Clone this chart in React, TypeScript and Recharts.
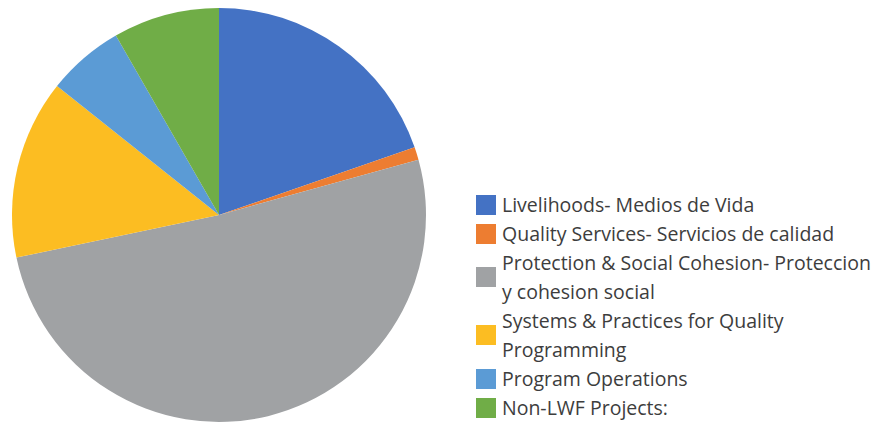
import { PieChart, Pie, Cell, Legend } from 'recharts'

const categories = [
    'Livelihoods- Medios de Vida',
    'Quality Services- Servicios de calidad',
    'Protection & Social Cohesion- Proteccion y cohesion social',
    'Systems & Practices for Quality Programming',
    'Program Operations',
    'Non-LWF Projects:',
]
const shares = [19.7, 1.0, 51.0, 14.0, 6.0, 8.3]
const colors = ['#4472c4', '#ed7d31', '#a0a2a4', '#fcbd22', '#5b9bd5', '#70ad47']

const data = categories.map((name, i) => ({ name, value: shares[i] }))

function LegendList() {
    return (
        <div style={{ fontFamily: '"Open Sans", sans-serif', fontSize: 19.5, lineHeight: '29px', color: '#3d3d3d' }}>
            {categories.map((name, i) => (
                <div key={name} style={{ display: 'flex', alignItems: 'center' }}>
                    <div style={{ width: 20, height: 20, background: colors[i], flexShrink: 0, marginRight: 6 }} />
                    <div style={{ width: 372 }}>{name}</div>
                </div>
            ))}
        </div>
    )
}

export default function App() {
    return (
        <div style={{ position: 'absolute', left: 0, top: 0, width: 890, height: 423, background: '#fff' }}>
            <PieChart width={890} height={423}>
                <Pie
                    data={data}
                    dataKey="value"
                    nameKey="name"
                    cx={214}
                    cy={210}
                    outerRadius={207}
                    startAngle={90}
                    endAngle={-270}
                    stroke="none"
                    isAnimationActive={false}
                >
                    {data.map((d, i) => (
                        <Cell key={d.name} fill={colors[i]} />
                    ))}
                </Pie>
                <Legend
                    content={() => <LegendList />}
                    wrapperStyle={{ position: 'absolute', left: 476, top: 190, width: 414 }}
                />
            </PieChart>
        </div>
    )
}
